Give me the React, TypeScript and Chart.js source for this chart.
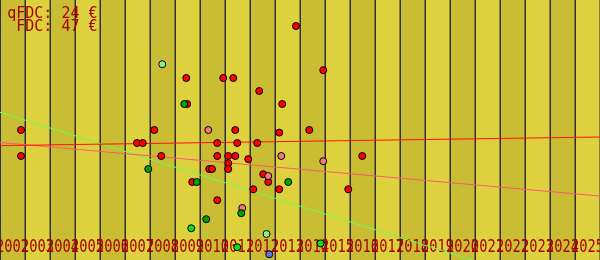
import React, { useEffect, useRef } from "react";
import { Chart, registerables } from "chart.js";

Chart.register(...registerables);

// ---- data ----
const yearLabels = [
  "2002", "2003", "2004", "2005", "2006", "2007", "2008", "2009",
  "2010", "2011", "2012", "2013", "2014", "2015", "2016", "2017",
  "2018", "2019", "2020", "2021", "2022", "2023", "2024", "2025",
];
const X_MIN = 2002;
const X_MAX = 2026;
const Y_MIN = 0;
const Y_MAX = 100;

const summaryNames = ["qFDC", "FDC"];
const summaryValues = [24, 47];

// [year, price €]
const redPoints: [number, number][] = [
  [2002.84, 50], [2002.84, 40], [2007.48, 45], [2007.71, 45], [2008.17, 50],
  [2008.45, 40], [2009.49, 60], [2009.69, 30], [2009.45, 70], [2010.93, 70],
  [2011.33, 70], [2014.93, 73], [2012.37, 65], [2013.29, 60], [2011.41, 50],
  [2013.17, 49], [2014.37, 50], [2010.69, 45], [2011.49, 45], [2012.29, 45],
  [2010.69, 40], [2011.13, 40], [2011.41, 40], [2011.93, 38.8], [2011.13, 37.2],
  [2010.37, 35], [2010.48, 35], [2011.13, 35], [2012.53, 33], [2012.73, 30],
  [2012.13, 27.2], [2013.17, 27.2], [2015.93, 27.2], [2010.69, 23], [2016.49, 40],
  [2013.84, 90],
];
const salmonPoints: [number, number][] = [
  [2010.33, 50], [2013.25, 40], [2014.93, 38], [2012.73, 32.3], [2011.69, 20],
];
const greenPoints: [number, number][] = [
  [2007.93, 35], [2009.37, 60], [2009.87, 30], [2013.53, 30], [2011.65, 18], [2010.25, 15.7],
];
const limePoints: [number, number][] = [
  [2009.65, 12.2], [2011.49, 4.9], [2014.82, 6.4],
];
const paleGreenPoints: [number, number][] = [
  [2008.49, 75.3], [2012.66, 10],
];
const bluePoints: [number, number][] = [[2012.77, 2.2]];

// trend lines: value at X_MIN and X_MAX
const trendRed = [44.0, 47.3];
const trendPink = [45.2, 24.6];
const trendGreen = [56.8, -15.4];

const toXY = (arr: [number, number][]) => arr.map(([x, y]) => ({ x, y }));
const trend = (v: number[]) => [{ x: X_MIN, y: v[0] }, { x: X_MAX, y: v[1] }];

const STRIPE_DARK = "#c9be33";
const STRIPE_LIGHT = "#ddd23e";
const GRID = "#30303c";
const TEXT = "#aa0000";

const backdrop = {
  id: "backdrop",
  beforeDatasetsDraw(chart: any) {
    const { ctx, chartArea } = chart;
    const xs = chart.scales.x;
    ctx.save();
    yearLabels.forEach((_, i) => {
      const x0 = xs.getPixelForValue(X_MIN + i);
      const x1 = xs.getPixelForValue(X_MIN + i + 1);
      ctx.fillStyle = i % 2 === 0 ? STRIPE_DARK : STRIPE_LIGHT;
      ctx.fillRect(x0, chartArea.top, x1 - x0, chartArea.bottom - chartArea.top);
    });
    ctx.strokeStyle = GRID;
    ctx.lineWidth = 1.5;
    for (let i = 0; i <= yearLabels.length; i++) {
      const x = xs.getPixelForValue(X_MIN + i) + 0.25;
      ctx.beginPath();
      ctx.moveTo(x, chartArea.top);
      ctx.lineTo(x, chartArea.bottom);
      ctx.stroke();
    }
    ctx.fillStyle = TEXT;
    ctx.font = '18px "DejaVu Sans Mono"';
    ctx.textAlign = "center";
    ctx.textBaseline = "alphabetic";
    yearLabels.forEach((lab, i) => {
      const x = xs.getPixelForValue(X_MIN + i + 0.5);
      ctx.fillText(lab, x, 252, 33);
    });
    ctx.font = '15px "DejaVu Sans Mono"';
    ctx.textAlign = "right";
    summaryNames.forEach((n, i) => {
      ctx.fillText(`${n}: ${summaryValues[i]} €`, 97.5, 17.5 + i * 13.5);
    });
    ctx.restore();
  },
};

const pt = (data: any, color: string, order: number) => ({
  type: "scatter" as const,
  data,
  backgroundColor: color,
  borderColor: "#000000",
  pointBackgroundColor: color,
  pointBorderColor: "#000000",
  pointBorderWidth: 1,
  pointRadius: 3.5,
  order,
});

const ln = (data: any, color: string) => ({
  type: "line" as const,
  data,
  borderColor: color,
  borderWidth: 1,
  pointRadius: 0,
  fill: false,
  tension: 0,
  order: 20,
});

export default function App() {
  const ref = useRef<HTMLCanvasElement | null>(null);
  useEffect(() => {
    if (!ref.current) return;
    const chart = new Chart(ref.current, {
      type: "scatter",
      data: {
        datasets: [
          pt(toXY(bluePoints), "#6470e6", 1),
          pt(toXY(paleGreenPoints), "#8cf08c", 2),
          pt(toXY(limePoints), "#10e010", 2),
          pt(toXY(greenPoints), "#00a400", 3),
          pt(toXY(salmonPoints), "#f07a7a", 4),
          pt(toXY(redPoints), "#ff0000", 5),
          ln(trend(trendRed), "#ff1010"),
          ln(trend(trendPink), "#ff5a70"),
          ln(trend(trendGreen), "#66ff55"),
        ] as any,
      },
      options: {
        animation: false,
        responsive: false,
        maintainAspectRatio: false,
        layout: { padding: 0, autoPadding: false },
        plugins: { legend: { display: false }, tooltip: { enabled: false } },
        scales: {
          x: { type: "linear", min: X_MIN, max: X_MAX, display: false },
          y: { type: "linear", min: Y_MIN, max: Y_MAX, display: false },
        },
      },
      plugins: [backdrop],
    });
    return () => chart.destroy();
  }, []);
  return (
    <div style={{ position: "fixed", left: 0, top: 0, width: 600, height: 260 }}>
      <canvas ref={ref} width={600} height={260} style={{ display: "block", width: 600, height: 260 }} />
    </div>
  );
}
